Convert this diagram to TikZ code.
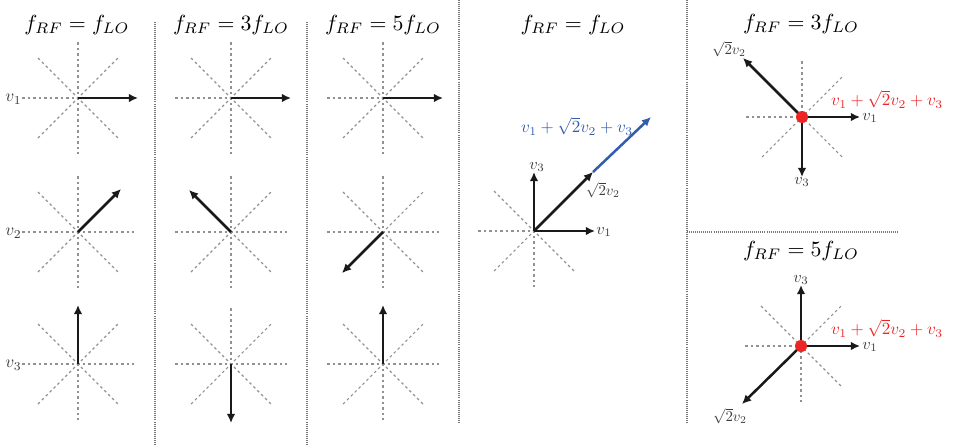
\documentclass[tikz,border=0pt]{standalone}
\usetikzlibrary{arrows.meta}
\definecolor{raygray}{RGB}{145,145,145}
\definecolor{divgray}{RGB}{120,120,120}
\definecolor{vecblue}{RGB}{50,92,172}
\definecolor{vecred}{RGB}{236,36,36}
\definecolor{vecblack}{RGB}{25,25,25}
\newcommand\myscl[2]{\scalebox{#1}{$#2$}}
\begin{document}
\begin{tikzpicture}[x=0.417pt,y=-0.417pt,
  ray/.style={draw=raygray, line width=0.45pt, dash pattern=on 1.1pt off 1.2pt},
  divider/.style={draw=divgray, line width=0.75pt, dash pattern=on 0.4pt off 0.45pt},
  vec/.style={draw=vecblack, line width=1.05pt, -{Latex[length=3.8pt,width=3.6pt]}},
  bvec/.style={draw=vecblue, line width=1.05pt, -{Latex[length=3.8pt,width=3.6pt]}},
  title/.style={font=\fontsize{10}{12}\selectfont, inner sep=0pt, anchor=base},
  lab/.style={font=\fontsize{10}{12}\selectfont, inner sep=0pt, text=vecblack!85},
  sumlab/.style={font=\fontsize{10}{12}\selectfont, inner sep=0pt},
  burst/.pic={
    \draw[ray] (-56,0) -- (56,0);
    \draw[ray] (0,-56) -- (0,56);
    \draw[ray] (-40,-40) -- (40,40);
    \draw[ray] (-40,40) -- (40,-40);
  }]
\useasboundingbox (0,0) rectangle (955,444);

% dividers
\draw[divider] (155,22) -- (155,444);
\draw[divider] (307,22) -- (307,444);
\draw[divider] (459,0) -- (459,422);
\draw[divider] (687,0) -- (687,422);
\draw[divider] (687,232) -- (897,232);

% titles
\node[title] (t1) at (77,30) {\myscl{0.91}{f_{RF}=f_{LO}}};
\node[title] (t2) at (231,30) {\myscl{0.91}{f_{RF}=3f_{LO}}};
\node[title] (t3) at (383,30) {\myscl{0.91}{f_{RF}=5f_{LO}}};
\node[title] (t4) at (573,30) {\myscl{0.91}{f_{RF}=f_{LO}}};
\node[title] (t5) at (801,29) {\myscl{0.91}{f_{RF}=3f_{LO}}};
\node[title] (t6) at (801,256) {\myscl{0.91}{f_{RF}=5f_{LO}}};

% grid of small phasor diagrams
\coordinate (a1) at (78,98);  \coordinate (a2) at (78,232);  \coordinate (a3) at (78,364);
\coordinate (b1) at (231,98); \coordinate (b2) at (231,232); \coordinate (b3) at (231,364);
\coordinate (c1) at (383,98); \coordinate (c2) at (383,232); \coordinate (c3) at (383,364);
\foreach \p in {a1,a2,a3,b1,b2,b3,c1,c2,c3} { \pic at (\p) {burst}; }

\node[lab, anchor=east] (l1) at (22,99) {\myscl{0.72}{v_1}};
\node[lab, anchor=east] (l2) at (22,233) {\myscl{0.72}{v_2}};
\node[lab, anchor=east] (l3) at (22,365) {\myscl{0.72}{v_3}};

\coordinate (a1e) at (138,98);  \draw[vec] (a1) -- (a1e);
\coordinate (a2e) at (121,189); \draw[vec] (a2) -- (a2e);
\coordinate (a3e) at (78,305);  \draw[vec] (a3) -- (a3e);
\coordinate (b1e) at (291,98);  \draw[vec] (b1) -- (b1e);
\coordinate (b2e) at (189,190); \draw[vec] (b2) -- (b2e);
\coordinate (b3e) at (231,423); \draw[vec] (b3) -- (b3e);
\coordinate (c1e) at (443,98);  \draw[vec] (c1) -- (c1e);
\coordinate (c2e) at (342,273); \draw[vec] (c2) -- (c2e);
\coordinate (c3e) at (383,305); \draw[vec] (c3) -- (c3e);

% middle panel: f_RF = f_LO sum
\coordinate (M) at (534,231);
\pic at (M) {burst};
\coordinate (Mv1) at (595,231);
\coordinate (Mv3) at (534,172);
\coordinate (Mv2) at (593,172);
\coordinate (Ms) at (651,117);
\draw[bvec] (Mv2) -- (Ms);
\draw[vec] (M) -- (Mv1);
\draw[vec] (M) -- (Mv3);
\draw[vec] (M) -- (Mv2);
\node[lab] (Ml1) at (604,232) {\myscl{0.68}{v_1}};
\node[lab] (Ml3) at (537,167) {\myscl{0.68}{v_3}};
\node[lab] (Ml2) at (603,190) {\myscl{0.62}{\sqrt{2}v_2}};
\node[sumlab, text=vecblue] (Mls) at (577,126) {\myscl{0.71}{v_1+\sqrt{2}v_2+v_3}};

% right top: f_RF = 3 f_LO
\coordinate (R) at (802,117);
\pic at (R) {burst};
\coordinate (Rv1) at (860,117);
\coordinate (Rv3) at (802,177);
\coordinate (Rv2) at (743,58);
\draw[vec] (R) -- (Rv1);
\draw[vec] (R) -- (Rv3);
\draw[vec] (R) -- (Rv2);
\fill[vecred] (R) circle[radius=6];
\node[lab] (Rl1) at (870,118) {\myscl{0.68}{v_1}};
\node[lab] (Rl3) at (802,182) {\myscl{0.68}{v_3}};
\node[lab] (Rl2) at (729,49) {\myscl{0.62}{\sqrt{2}v_2}};
\node[sumlab, text=vecred] (Rls) at (887,99) {\myscl{0.71}{v_1+\sqrt{2}v_2+v_3}};

% right bottom: f_RF = 5 f_LO
\coordinate (S) at (801,346);
\pic at (S) {burst};
\coordinate (Sv1) at (860,346);
\coordinate (Sv3) at (801,285);
\coordinate (Sv2) at (742,404);
\draw[vec] (S) -- (Sv1);
\draw[vec] (S) -- (Sv3);
\draw[vec] (S) -- (Sv2);
\fill[vecred] (S) circle[radius=6];
\node[lab] (Sl1) at (870,347) {\myscl{0.68}{v_1}};
\node[lab] (Sl3) at (801,280) {\myscl{0.68}{v_3}};
\node[lab] (Sl2) at (730,416) {\myscl{0.62}{\sqrt{2}v_2}};
\node[sumlab, text=vecred] (Sls) at (887,328) {\myscl{0.71}{v_1+\sqrt{2}v_2+v_3}};
\end{tikzpicture}
\end{document}
